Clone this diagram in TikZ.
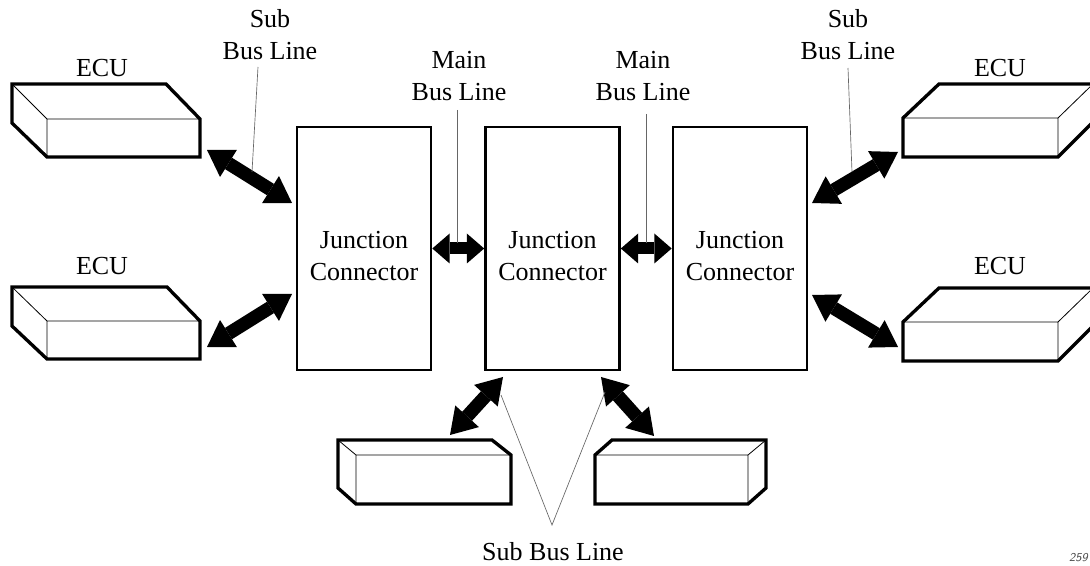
\documentclass[tikz,border=0pt]{standalone}
\usepackage{fontspec}
\setmainfont{Liberation Serif}
\usetikzlibrary{arrows.meta}

\begin{document}
\begin{tikzpicture}[x=0.75pt,y=0.75pt,yscale=-1,xscale=1,
  every node/.style={font=\fontsize{19.5}{24}\selectfont},
  junction/.style={draw, line width=2pt, inner sep=0pt, minimum width=100.5pt, minimum height=182.25pt, align=center},
  boxedge/.style={line width=2.5pt, line join=miter},
  boxinner/.style={line width=0.6pt},
  busarrow/.style={line width=9pt, {Triangle[length=13pt,width=22.5pt,line width=0pt]}-{Triangle[length=13pt,width=22.5pt,line width=0pt]}},
  subarrow/.style={line width=10pt, {Triangle[length=19pt,width=24pt,line width=0pt]}-{Triangle[length=19pt,width=24pt,line width=0pt]}},
  leader/.style={line width=0.5pt, black!60},
  lbl/.style={align=center, inner sep=0.75pt}]
\useasboundingbox (0,0) rectangle (1090,566);

%Shape: Junction Connector left
\node [junction] (jcL) at (364,248.5) {\rule{0pt}{24pt}Junction\\Connector};
%Shape: Junction Connector middle
\node [junction] (jcM) at (552.5,248.5) {\rule{0pt}{24pt}Junction\\Connector};
%Shape: Junction Connector right
\node [junction] (jcR) at (740,248.5) {\rule{0pt}{24pt}Junction\\Connector};

%Shape: ECU box top left
\draw [boxedge] (12,84) -- (166,84) -- (200,119) -- (200,157) -- (47,157) -- (12,123) -- cycle ;
\draw [boxinner] (12,84) -- (47,119) -- (200,119) (47,119) -- (47,157) ;
%Shape: ECU box bottom left
\draw [boxedge] (12,287) -- (167,287) -- (200,321) -- (200,359) -- (47,359) -- (12,326) -- cycle ;
\draw [boxinner] (12,287) -- (47,321) -- (200,321) (47,321) -- (47,359) ;
%Shape: ECU box top right
\draw [boxedge] (939,84) -- (1093,84) -- (1093,122) -- (1058,157) -- (903,157) -- (903,118) -- cycle ;
\draw [boxinner] (903,118) -- (1058,118) -- (1093,84) (1058,118) -- (1058,157) ;
%Shape: ECU box bottom right
\draw [boxedge] (939,288) -- (1093,288) -- (1093,326) -- (1058,361) -- (903,361) -- (903,322) -- cycle ;
\draw [boxinner] (903,322) -- (1058,322) -- (1093,288) (1058,322) -- (1058,361) ;
%Shape: box under left
\draw [boxedge] (338,440) -- (492,440) -- (511,455) -- (511,504) -- (356,504) -- (338,488) -- cycle ;
\draw [boxinner] (338,440) -- (356,455) -- (511,455) (356,455) -- (356,504) ;
%Shape: box under right
\draw [boxedge] (612,440) -- (766,440) -- (766,488) -- (748,504) -- (595,504) -- (595,455) -- cycle ;
\draw [boxinner] (595,455) -- (748,455) -- (766,440) (748,455) -- (748,504) ;

% arrow ends
\coordinate (ecuTL) at (207,150);
\coordinate (jcTL) at (292,203);
\coordinate (ecuBL) at (207,347);
\coordinate (jcBL) at (292,294);
\coordinate (jcTR) at (812,203);
\coordinate (ecuTR) at (898,152);
\coordinate (jcBR) at (812,295);
\coordinate (ecuBR) at (898,347);
\coordinate (jcUL) at (503,377);
\coordinate (boxUL) at (450,435);
\coordinate (jcUR) at (601,377);
\coordinate (boxUR) at (654,436);

%Shape: bus arrows
\draw [subarrow] (ecuTL) -- (jcTL) ;
\draw [subarrow] (ecuBL) -- (jcBL) ;
\draw [subarrow] (jcTR) -- (ecuTR) ;
\draw [subarrow] (jcBR) -- (ecuBR) ;
\draw [subarrow] (jcUL) -- (boxUL) ;
\draw [subarrow] (jcUR) -- (boxUR) ;
\draw [busarrow] (jcL.east) -- (jcM.west) ;
\draw [busarrow] (jcM.east) -- (jcR.west) ;

% Text Node
\node [lbl] (ecuTLt) at (102,68) {ECU};
% Text Node
\node [lbl] (ecuBLt) at (102,266) {ECU};
% Text Node
\node [lbl] (ecuTRt) at (1000,68) {ECU};
% Text Node
\node [lbl] (ecuBRt) at (1000,266) {ECU};
% Text Node
\node [lbl] (subTL) at (270,35) {Sub\\Bus Line};
% Text Node
\node [lbl] (subTR) at (848,35) {Sub\\Bus Line};
% Text Node
\node [lbl] (mainL) at (459,76) {Main\\Bus Line};
% Text Node
\node [lbl] (mainR) at (643,76) {Main\\Bus Line};
% Text Node
\node [lbl] (subB) at (553,552) {Sub Bus Line};
% Text Node
\node [anchor=east, inner sep=0pt, text=black!70, font=\sffamily\itshape\fontsize{9}{10}\selectfont] (figno) at (1088,558) {259};

% leader ends
\coordinate (ldTLa) at (258,67);
\coordinate (ldTLb) at (252,172);
\coordinate (ldTRa) at (848,68);
\coordinate (ldTRb) at (852,172);
\coordinate (ldMLa) at (457,110);
\coordinate (ldMLb) at (457,243);
\coordinate (ldMRa) at (646,114);
\coordinate (ldMRb) at (646,243);
\coordinate (ldBa) at (501,395);
\coordinate (ldBv) at (552,525);
\coordinate (ldBb) at (605,392);

%Shape: leader lines
\draw [leader] (ldTLa) -- (ldTLb) ;
\draw [leader] (ldTRa) -- (ldTRb) ;
\draw [leader] (ldMLa) -- (ldMLb) ;
\draw [leader] (ldMRa) -- (ldMRb) ;
\draw [leader] (ldBa) -- (ldBv) -- (ldBb) ;

\end{tikzpicture}
\end{document}
